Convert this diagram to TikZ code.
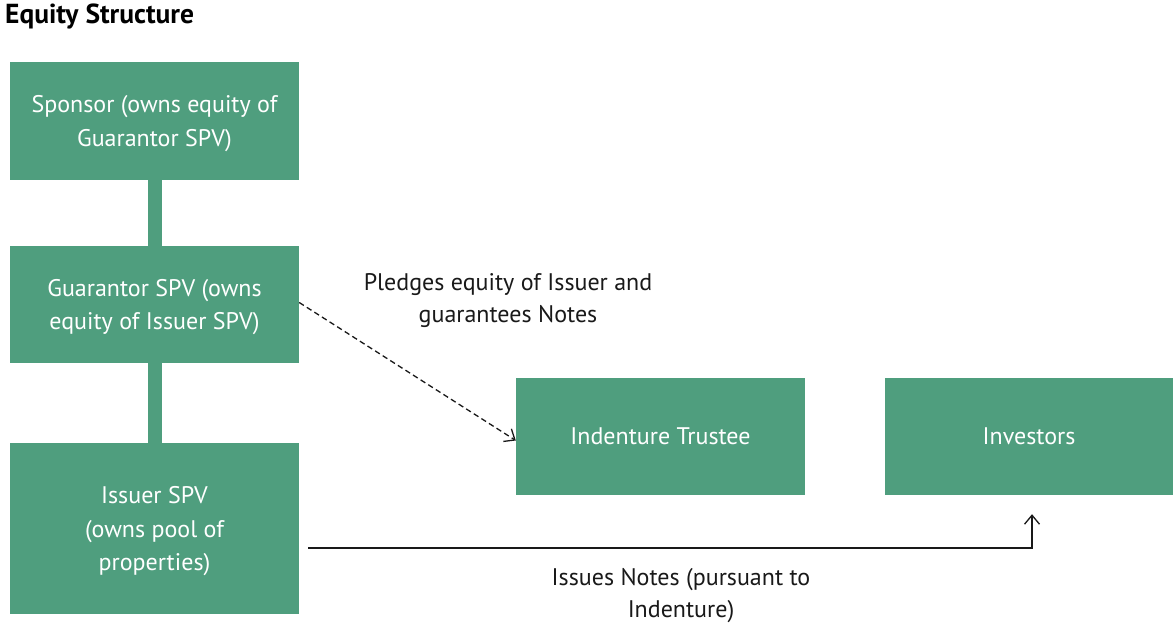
\documentclass[tikz,border=0pt]{standalone}
\usepackage{fontspec}
\setmainfont{PT Sans}
\usetikzlibrary{arrows.meta,calc}
\definecolor{boxgreen}{RGB}{79,158,126}
\definecolor{ink}{RGB}{25,25,25}
\begin{document}
\begin{tikzpicture}[x=1pt,y=-1pt,
  box/.style={fill=boxgreen,draw=none,inner sep=0pt,text=white,align=center,
    font=\fontsize{24}{33.5}\selectfont},
  multi/.style={text depth=-8pt},
  lbl/.style={text=ink,align=center,font=\fontsize{24}{32}\selectfont},
  bar/.style={draw=boxgreen,line width=14pt},
  conn/.style={draw=ink,line width=1.3pt,-{Straight Barb[length=9pt,width=15pt,line width=1.3pt]}}]
\useasboundingbox[fill=white] (0,0) rectangle (1174,628);
\node[anchor=west,inner sep=0pt,text=black,font=\fontsize{27.5}{30}\selectfont\bfseries] (title) at (5,17) {Equity Structure};
\node[box,multi,minimum width=289pt,minimum height=118pt] (sponsor) at (154.5,121) {Sponsor (owns equity of\\Guarantor SPV)};
\node[box,multi,minimum width=289pt,minimum height=117pt] (guarantor) at (154.5,304.5) {Guarantor SPV (owns\\equity of Issuer SPV)};
\node[box,multi,minimum width=289pt,minimum height=171pt] (issuer) at (154.5,528.5) {Issuer SPV\\(owns pool of\\properties)};
\node[box,minimum width=289pt,minimum height=117pt] (trustee) at (660.5,436.5) {Indenture Trustee};
\node[box,minimum width=288pt,minimum height=117pt] (investors) at (1029,436.5) {Investors};
\draw[bar] (sponsor.south) -- (guarantor.north);
\draw[bar] (guarantor.south) -- (issuer.north);
\draw[conn,dash pattern=on 5.5pt off 3.5pt] ([yshift=2pt]guarantor.east) -- ([yshift=-4pt]trustee.west);
\coordinate (start) at (308,548);
\draw[conn,shorten >=19pt] (start) -| ([xshift=3pt]investors.south);
\node[lbl] (pledge) at (508,301) {Pledges equity of Issuer and\\guarantees Notes};
\node[lbl] (issues) at (681,596) {Issues Notes (pursuant to\\Indenture)};
\end{tikzpicture}
\end{document}
